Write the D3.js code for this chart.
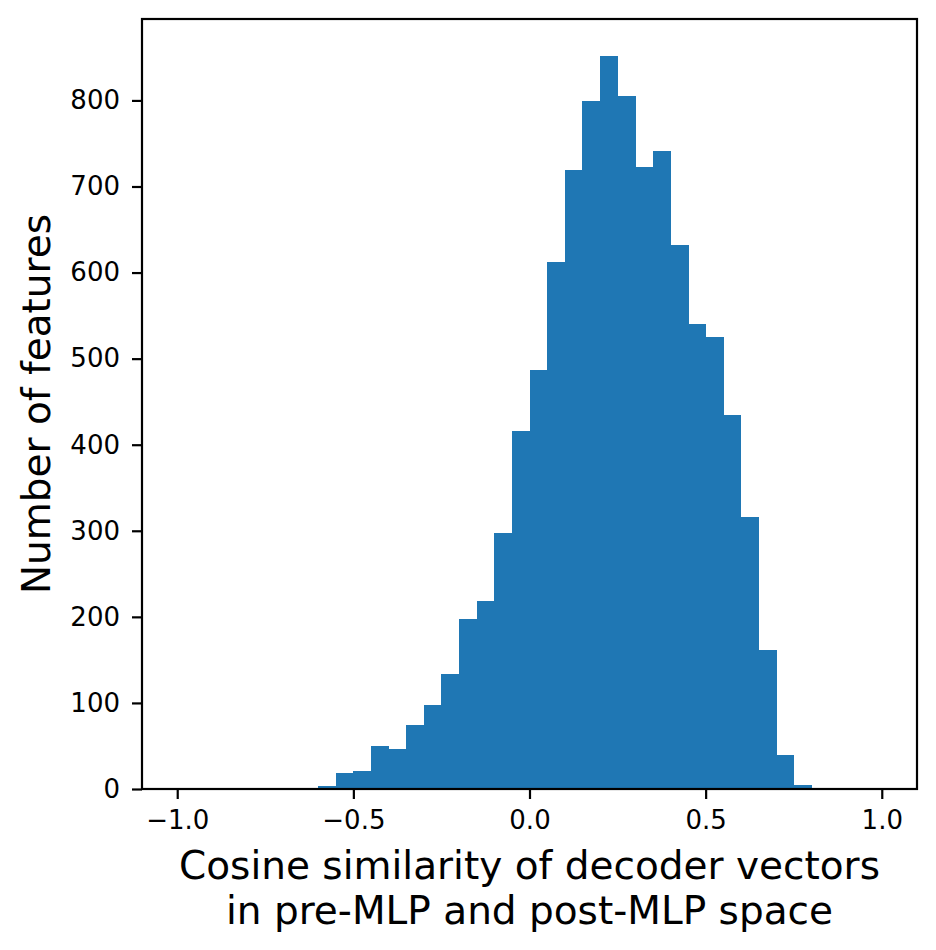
<!DOCTYPE html>
<html>
<head>
<meta charset="utf-8">
<script src="https://cdn.jsdelivr.net/npm/d3@7"></script>
<style>
  body { margin: 0; background: #fff; }
  svg { display: block; font-family: "DejaVu Sans", sans-serif; }
</style>
</head>
<body>
<svg class="chart"></svg>
<script>
// histogram data: left edge of each bin, and counts
var binStarts = [-0.60, -0.55, -0.50, -0.45, -0.40, -0.35, -0.30, -0.25, -0.20, -0.15,
                 -0.10, -0.05, 0.00, 0.05, 0.10, 0.15, 0.20, 0.25, 0.30, 0.35,
                 0.40, 0.45, 0.50, 0.55, 0.60, 0.65, 0.70, 0.75];
var counts = [4, 19, 21, 50, 47, 74, 98, 134, 197, 218,
              298, 416, 487, 612, 719, 799, 852, 805, 723, 741,
              632, 540, 525, 434, 316, 161, 39, 5];
var binWidth = 0.05;
var xTicks = [-1.0, -0.5, 0.0, 0.5, 1.0];
var yTicks = [0, 100, 200, 300, 400, 500, 600, 700, 800];

var W = 936, H = 950;
var margin = { top: 19, right: 19, bottom: 161, left: 142 };
var width = W - margin.left - margin.right,
    height = H - margin.top - margin.bottom;

var svg = d3.select(".chart").attr("width", W).attr("height", H);
var g = svg.append("g")
    .attr("transform", "translate(" + margin.left + "," + margin.top + ")");

var x = d3.scaleLinear().domain([-1.1, 1.1]).range([0, width]);
var y = d3.scaleLinear().domain([0, d3.max(counts) * 1.05]).range([height, 0]);

var data = binStarts.map(function (b, i) { return { x0: b, x1: b + binWidth, n: counts[i] }; });

// bars
g.selectAll("rect.bar").data(data)
  .enter().append("rect")
    .attr("class", "bar")
    .attr("x", d => x(d.x0))
    .attr("width", d => x(d.x1) - x(d.x0) + 0.5)
    .attr("y", d => y(d.n))
    .attr("height", d => y(0) - y(d.n))
    .attr("fill", "#1f77b4")
    .attr("shape-rendering", "crispEdges");

// axes
var xAxis = g.append("g")
    .attr("transform", "translate(0," + height + ")")
    .call(d3.axisBottom(x).tickValues(xTicks).tickFormat(d3.format(".1f"))
        .tickSize(10).tickSizeOuter(0).tickPadding(12));
var yAxis = g.append("g")
    .call(d3.axisLeft(y).tickValues(yTicks).tickSize(10).tickSizeOuter(0).tickPadding(12));

[xAxis, yAxis].forEach(function (a) {
    a.select(".domain").remove();
    a.selectAll(".tick line").attr("stroke", "#000").attr("stroke-width", 2.2);
    a.selectAll(".tick text").attr("fill", "#000").style("font-size", "26px")
        .style("font-family", "'DejaVu Sans', sans-serif");
});

// frame
g.append("rect")
    .attr("x", 0).attr("y", 0)
    .attr("width", width).attr("height", height)
    .attr("fill", "none").attr("stroke", "#000").attr("stroke-width", 2.2);

// axis labels
svg.append("text")
    .attr("x", margin.left + width / 2).attr("y", 879)
    .attr("text-anchor", "middle").style("font-size", "39px")
    .text("Cosine similarity of decoder vectors");
svg.append("text")
    .attr("x", margin.left + width / 2).attr("y", 924)
    .attr("text-anchor", "middle").style("font-size", "39px")
    .text("in pre-MLP and post-MLP space");
svg.append("text")
    .attr("transform", "translate(50," + (margin.top + height / 2) + ") rotate(-90)")
    .attr("text-anchor", "middle").style("font-size", "39px")
    .text("Number of features");
</script>
</body>
</html>
